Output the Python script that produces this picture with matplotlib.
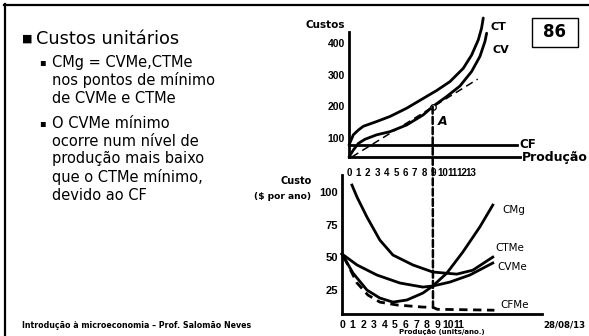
import matplotlib.pyplot as plt
from matplotlib.patches import ConnectionPatch, Rectangle
from matplotlib.lines import Line2D

W, H = 589, 336

# painel de cima: custos totais (produção, custo)
ct_q = [0, 0.46, 0.99, 1.52, 2.94, 4.36, 6.13, 7.9, 9.33, 10.74, 12.16, 13.05, 13.76, 14.11, 14.29]
ct_custo = [78, 110, 125, 137, 152, 168, 194, 225, 250, 278, 320, 362, 410, 447, 479]
cv_q = [0, 0.46, 1.0, 1.7, 2.94, 4.36, 6.13, 7.9, 8.9, 10.39, 11.8, 13.05, 13.94, 14.47, 14.65]
cv_custo = [40, 62, 83, 96, 110, 120, 141, 173, 199, 231, 264, 310, 358, 405, 431]
cf_q = [0, 17.9]
cf_custo = [78, 78]
raio_q = [0.3, 13.7]
raio_custo = [40, 286]
a_q, a_custo = 8.9, 199

# painel de baixo: custos unitários
cmg_q = [0, 1.04, 2.36, 3.58, 4.81, 6.13, 7.64, 8.58, 9.91, 11.42, 13.02, 14.25]
cmg = [52.6, 38, 25, 18.9, 15.8, 17.4, 22.7, 28.1, 38, 54.1, 73.2, 90]
cvme_q = [0, 1.42, 3.3, 5.47, 7.64, 8.58, 10.19, 12.08, 14.25]
cvme = [52.6, 44.2, 36.5, 30.4, 27.3, 28.1, 31.1, 36.5, 45.7]
ctme_q = [0.94, 1.42, 2.36, 3.58, 4.81, 6.7, 8.58, 10.85, 12.36, 14.25]
ctme = [105.3, 96.1, 80.8, 63.2, 51.8, 44.2, 38.8, 37.2, 40.2, 50.2]
cfme_q = [0.2, 1.42, 2.45, 3.58, 5.19, 7.64, 8.6, 9.0, 14.4]
cfme = [50, 30.4, 21.2, 15.8, 13.6, 12.0, 11.8, 10.3, 9.6]
a_q_baixo = 8.6

top_xticks = list(range(14))
top_yticks = [100, 200, 300, 400]
bot_xticks = list(range(12))
bot_yticks = [25, 50, 75, 100]

texto = [
    ("▪", "CMg = CVMe,CTMe", 62),
    (None, "nos pontos de mínimo", 80),
    (None, "de CVMe e CTMe", 98),
    ("▪", "O CVMe mínimo", 123),
    (None, "ocorre num nível de", 141),
    (None, "produção mais baixo", 159),
    (None, "que o CTMe mínimo,", 177),
    (None, "devido ao CF", 195),
]

narrow = ["Liberation Sans Narrow", "Liberation Sans", "DejaVu Sans"]
arial = ["Liberation Sans", "DejaVu Sans"]


def fx(x):
    return x / W


def fy(y):
    return 1 - y / H


fig = plt.figure(figsize=(W / 100, H / 100), dpi=100)
fig.patch.set_facecolor("white")

# moldura do slide
fig.add_artist(Line2D([fx(4), 1], [fy(5), fy(5)], color="black", lw=1.6, transform=fig.transFigure))
fig.add_artist(Line2D([fx(5), fx(5)], [fy(4), 0], color="black", lw=1.6, transform=fig.transFigure))

# texto do slide
fig.text(fx(22), fy(39), "■", fontsize=8, va="center", ha="left")
fig.text(fx(36), fy(39), "Custos unitários", fontsize=12.8, va="center", ha="left")
for marca, linha, y in texto:
    if marca:
        fig.text(fx(39), fy(y), marca, fontsize=7, va="center", ha="left")
    fig.text(fx(52), fy(y), linha, fontsize=10.5, va="center", ha="left")

fig.text(fx(22), fy(325), "Introdução à microeconomia – Prof. Salomão Neves",
         fontsize=5.7, fontweight="bold", va="center", ha="left")
fig.text(fx(586), fy(325), "28/08/13", fontsize=6.2, fontweight="bold", va="center", ha="right")

# caixa do número do slide
fig.add_artist(Rectangle((fx(532), fy(47)), fx(578) - fx(532), fy(18) - fy(47),
                         fill=False, ec="black", lw=1.0, transform=fig.transFigure))
fig.text(fx(555), fy(32), "86", fontsize=12, fontweight="bold", va="center", ha="center")

lw = 2.0

# --- painel de cima ---
ax1 = fig.add_axes([fx(349), fy(157), fx(520) - fx(349), fy(17.7) - fy(157)])
ax1.set_xlim(0, 18.2)
ax1.set_ylim(40, 480)
ax1.patch.set_alpha(0)
for s in ["top", "right"]:
    ax1.spines[s].set_visible(False)
ax1.spines["left"].set_bounds(40, 435)
ax1.spines["left"].set_linewidth(lw)
ax1.spines["bottom"].set_linewidth(lw)
ax1.set_xticks(top_xticks)
ax1.set_xticklabels([str(t) for t in top_xticks], fontweight="bold", fontsize=7, family=narrow)
ax1.set_yticks(top_yticks)
ax1.set_yticklabels([str(t) for t in top_yticks], fontweight="bold", fontsize=7.5, family=arial)
ax1.tick_params(axis="x", length=0, pad=8)
ax1.tick_params(axis="y", length=0, pad=3)

ax1.plot(ct_q, ct_custo, color="black", lw=lw, clip_on=False, solid_capstyle="round")
ax1.plot(cv_q, cv_custo, color="black", lw=lw, clip_on=False, solid_capstyle="round")
ax1.plot(cf_q, cf_custo, color="black", lw=lw, clip_on=False)
ax1.plot(raio_q, raio_custo, color="black", lw=1.1, ls=(0, (5, 3)), clip_on=False)
ax1.plot([a_q], [a_custo], marker="o", ms=4, mfc="white", mec="black", mew=0.9, zorder=5, clip_on=False)
ax1.annotate("A", xy=(a_q, a_custo), xytext=(3.5, -11), textcoords="offset points",
             fontsize=9, fontweight="bold", fontstyle="italic", va="center", ha="left")

ax1.annotate("CT", xy=(ct_q[-1], ct_custo[-1]), xytext=(5, -6.5), textcoords="offset points",
             fontsize=8, fontweight="bold", va="center", ha="left")
ax1.annotate("CV", xy=(cv_q[-1], cv_custo[-1]), xytext=(4, -12), textcoords="offset points",
             fontsize=8, fontweight="bold", va="center", ha="left")
ax1.annotate("CF", xy=(cf_q[-1], cf_custo[-1]), xytext=(1.5, 0), textcoords="offset points",
             fontsize=8.5, fontweight="bold", va="center", ha="left")
ax1.annotate("Produção", xy=(1, 0), xycoords="axes fraction", xytext=(1.5, 0),
             textcoords="offset points", fontsize=9, fontweight="bold", va="center", ha="left")
ax1.annotate("Custos", xy=(0, 435), xytext=(-3, 5), textcoords="offset points",
             fontsize=7.5, fontweight="bold", va="center", ha="right")

# --- painel de baixo ---
ax2 = fig.add_axes([fx(342), fy(314), fx(542) - fx(342), fy(175) - fy(314)])
ax2.set_xlim(0, 18.9)
ax2.set_ylim(6.7, 113)
ax2.patch.set_alpha(0)
for s in ["top", "right"]:
    ax2.spines[s].set_visible(False)
ax2.spines["left"].set_linewidth(lw)
ax2.spines["bottom"].set_linewidth(lw)
ax2.set_xticks(bot_xticks)
ax2.set_xticklabels([str(t) for t in bot_xticks], fontweight="bold", fontsize=7.5, family=narrow)
ax2.set_yticks(bot_yticks)
ax2.set_yticklabels([str(t) for t in bot_yticks], fontweight="bold", fontsize=8, family=arial)
ax2.tick_params(axis="x", length=0, pad=4)
ax2.tick_params(axis="y", length=0, pad=3)

ax2.plot(cmg_q, cmg, color="black", lw=lw, clip_on=False)
ax2.plot(cvme_q, cvme, color="black", lw=lw, clip_on=False)
ax2.plot(ctme_q, ctme, color="black", lw=lw, clip_on=False)
ax2.plot(cfme_q, cfme, color="black", lw=lw, ls=(0, (3, 2)), clip_on=False)

ax2.annotate("CMg", xy=(cmg_q[-1], cmg[-1]), xytext=(7, -3.5), textcoords="offset points",
             fontsize=7.5, va="center", ha="left")
ax2.annotate("CTMe", xy=(ctme_q[-1], ctme[-1]), xytext=(1.5, 6.5), textcoords="offset points",
             fontsize=7.5, va="center", ha="left")
ax2.annotate("CVMe", xy=(cvme_q[-1], cvme[-1]), xytext=(3, -3), textcoords="offset points",
             fontsize=7.5, va="center", ha="left")
ax2.annotate("CFMe", xy=(cfme_q[-1], cfme[-1]), xytext=(4, 3.5), textcoords="offset points",
             fontsize=7.5, va="center", ha="left")
ax2.annotate("Produção (units/ano.)", xy=(0.5, 0), xycoords="axes fraction", xytext=(0, -13),
             textcoords="offset points", fontsize=5, fontweight="bold", va="center", ha="center")
ax2.annotate("Custo", xy=(0, 100), xytext=(-22, 8), textcoords="offset points",
             fontsize=7, fontweight="bold", va="center", ha="right")
ax2.annotate("($ por ano)", xy=(0, 100), xytext=(-22, -3), textcoords="offset points",
             fontsize=6.6, fontweight="bold", va="center", ha="right")

# linha tracejada do ponto A até ao CFMe
ligacao = ConnectionPatch(xyA=(a_q, a_custo), coordsA=ax1.transData,
                          xyB=(a_q_baixo, cfme[6]), coordsB=ax2.transData,
                          color="black", lw=1.8, ls=(0, (2.8, 1.3)), zorder=1)
fig.add_artist(ligacao)

fig.savefig("out.png", dpi=100)
